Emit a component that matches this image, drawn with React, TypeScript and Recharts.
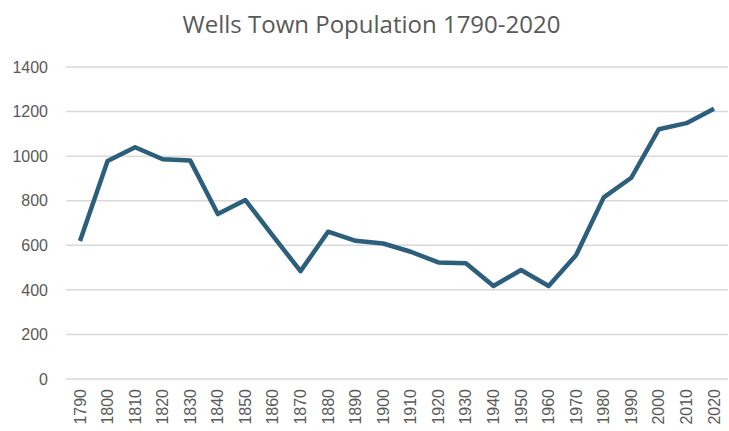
import { CartesianGrid, Line, LineChart, XAxis, YAxis } from 'recharts';

const years = [
  '1790', '1800', '1810', '1820', '1830', '1840', '1850', '1860', '1870', '1880', '1890', '1900',
  '1910', '1920', '1930', '1940', '1950', '1960', '1970', '1980', '1990', '2000', '2010', '2020'
];
const population = [
  619, 978, 1040, 986, 980, 740, 803, 642, 484, 661, 620, 608,
  571, 523, 519, 417, 489, 417, 556, 815, 903, 1121, 1148, 1213
];
const yTicks = [0, 200, 400, 600, 800, 1000, 1200, 1400];

const data = years.map((year, i) => ({ year, population: population[i] }));

const GRAY = '#595959';
const TICK_FONT = "'Liberation Sans', Arial, sans-serif";

function YearTick({ x, y, payload }: { x: number; y: number; payload: { value: string } }) {
  return (
    <text
      x={x}
      y={y}
      transform={`rotate(-90 ${x} ${y})`}
      textAnchor="end"
      dominantBaseline="central"
      fill={GRAY}
      fontSize={16}
      fontFamily={TICK_FONT}
    >
      {payload.value}
    </text>
  );
}

export default function App() {
  return (
    <div style={{ position: 'absolute', left: 0, top: 0, width: 729, height: 431, background: '#fff' }}>
      <div
        style={{
          position: 'absolute',
          top: 7,
          left: 0,
          width: 743,
          textAlign: 'center',
          fontFamily: "'Open Sans', sans-serif",
          fontSize: 24,
          color: GRAY
        }}
      >
        Wells Town Population 1790-2020
      </div>
      <LineChart width={729} height={431} data={data} margin={{ top: 67, right: 1, bottom: 0, left: 0 }}>
        <CartesianGrid vertical={false} stroke="#d9d9d9" strokeWidth={1.5} />
        <XAxis
          dataKey="year"
          interval={0}
          axisLine={false}
          tickLine={false}
          tickSize={0}
          tickMargin={10}
          height={52}
          padding={{ left: 14, right: 14 }}
          tick={YearTick}
        />
        <YAxis
          domain={[0, 1400]}
          ticks={yTicks}
          width={66}
          axisLine={false}
          tickLine={false}
          tickSize={0}
          tickMargin={18}
          tick={{ fill: GRAY, fontSize: 16, fontFamily: TICK_FONT }}
        />
        <Line
          type="linear"
          dataKey="population"
          stroke="#2B5F7C"
          strokeWidth={4.5}
          dot={false}
          strokeLinejoin="round"
          isAnimationActive={false}
        />
      </LineChart>
    </div>
  );
}
